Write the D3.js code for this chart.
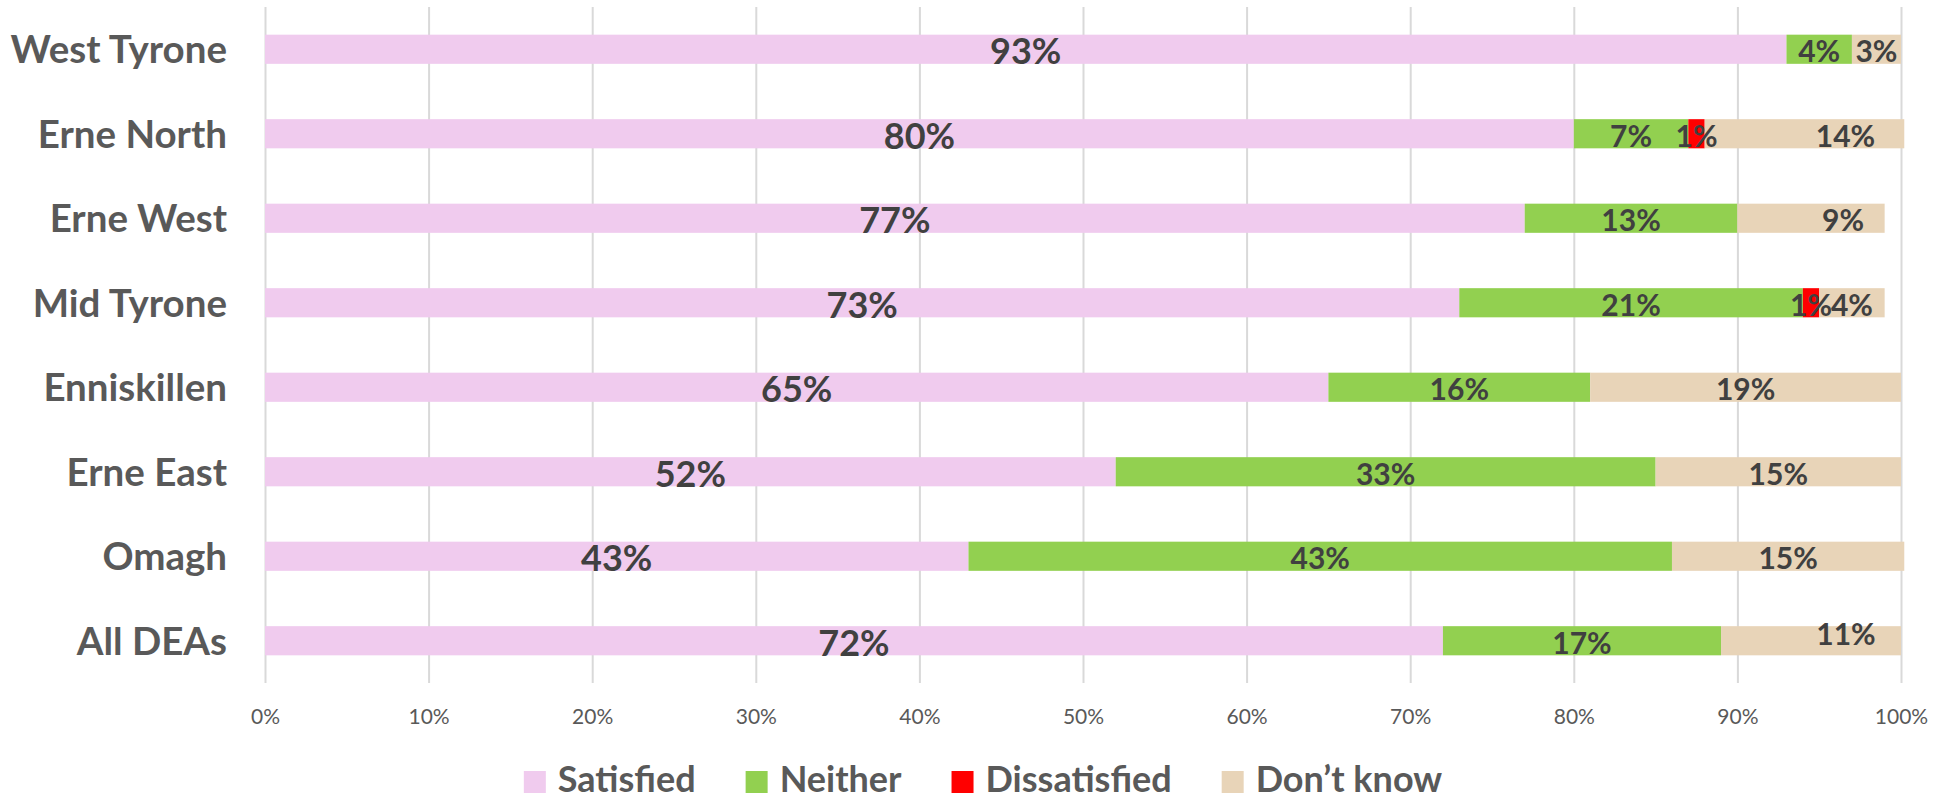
<!DOCTYPE html>
<html>
<head>
<meta charset="utf-8">
<script src="https://cdn.jsdelivr.net/npm/d3@7"></script>
<style>
  body { margin: 0; background: #fff; }
  svg { display: block; font-family: Lato, 'Open Sans', sans-serif; }
</style>
</head>
<body>
<svg class="chart"></svg>
<script>

var areas = ['West Tyrone', 'Erne North', 'Erne West', 'Mid Tyrone', 'Enniskillen', 'Erne East', 'Omagh', 'All DEAs']
var seriesNames = ['Satisfied', 'Neither', 'Dissatisfied', 'Don\u2019t know']
var colours = ['#F0CBEE', '#92D050', '#FF0000', '#E8D4B8']

// bar lengths, %
var satisfied    = [93, 80, 77, 73, 65, 52, 43, 72]
var neither      = [4, 7, 13, 21, 16, 33, 43, 17]
var dissatisfied = [0, 1, 0, 1, 0, 0, 0, 0]
var dontKnow     = [3, 12.2, 9, 4, 19, 15, 14.2, 11]

// printed labels, these don't always agree with the bars
var satisfiedLabels    = ['93%', '80%', '77%', '73%', '65%', '52%', '43%', '72%']
var neitherLabels      = ['4%', '7%', '13%', '21%', '16%', '33%', '43%', '17%']
var dissatisfiedLabels = [null, '1%', null, '1%', null, null, null, null]
var dontKnowLabels     = ['3%', '14%', '9%', '4%', '19%', '15%', '15%', '11%']

var tickValues = [0, 10, 20, 30, 40, 50, 60, 70, 80, 90, 100]

var W = 1948, H = 801
var margin = {left: 265, right: 47, top: 7, bottom: 118}

var svg = d3.select('.chart')
    .attr('width', W)
    .attr('height', H)

var x = d3.scaleLinear()
    .domain([0, 100])
    .range([margin.left, W - margin.right])

var y = d3.scaleBand()
    .domain(areas)
    .range([margin.top, H - margin.bottom])
    .paddingInner(0.655)
    .paddingOuter(0.3275)

var seriesValues = [satisfied, neither, dissatisfied, dontKnow]
var seriesLabels = [satisfiedLabels, neitherLabels, dissatisfiedLabels, dontKnowLabels]

var rows = areas.map(function(a, i) {
  var row = {area: a, index: i}
  seriesNames.forEach(function(s, j) { row[s] = seriesValues[j][i] })
  return row
})

var stacked = d3.stack().keys(seriesNames)(rows)

// gridlines + tick labels
var axis = svg.append('g')
    .attr('transform', 'translate(0,' + (H - margin.bottom) + ')')
    .call(d3.axisBottom(x)
      .tickValues(tickValues)
      .tickSize(-(H - margin.bottom - margin.top))
      .tickPadding(26)
      .tickFormat(function(d) { return d + '%' }))

axis.select('.domain').remove()
axis.selectAll('line')
    .attr('stroke', '#D9D9D9')
    .attr('stroke-width', 2)
axis.selectAll('text')
    .attr('fill', '#595959')
    .style('font-size', '21px')
    .style('font-family', 'Lato, sans-serif')

// bars
svg.append('g').selectAll('g')
    .data(stacked)
  .enter().append('g')
    .attr('fill', function(d, i) { return colours[i] })
  .selectAll('rect')
    .data(function(d) { return d })
  .enter().append('rect')
    .attr('x', function(d) { return x(d[0]) })
    .attr('y', function(d) { return y(d.data.area) })
    .attr('width', function(d) { return x(d[1]) - x(d[0]) })
    .attr('height', y.bandwidth())

// category labels
svg.append('g').selectAll('text')
    .data(areas)
  .enter().append('text')
    .attr('x', margin.left - 38)
    .attr('y', function(d) { return y(d) + y.bandwidth() / 2 })
    .attr('dy', '0.36em')
    .attr('text-anchor', 'end')
    .attr('fill', '#595959')
    .style('font-size', '38.5px')
    .style('font-weight', 'bold')
    .text(function(d) { return d })

// data labels, a few were dragged by hand in the original
var nudge = {
  'Erne North|Don\u2019t know': [41, 0],
  'Erne West|Don\u2019t know': [32, 0],
  'All DEAs|Don\u2019t know': [35, -9]
}

var labelData = []
stacked.forEach(function(layer, j) {
  layer.forEach(function(d) {
    var txt = seriesLabels[j][d.data.index]
    if (!txt) return
    var n = nudge[d.data.area + '|' + layer.key] || [0, 0]
    labelData.push({
      text: txt,
      cx: (x(d[0]) + x(d[1])) / 2 + n[0],
      cy: y(d.data.area) + y.bandwidth() / 2 + n[1],
      size: j === 0 ? 36 : 30
    })
  })
})

svg.append('g').selectAll('text')
    .data(labelData)
  .enter().append('text')
    .attr('x', function(d) { return d.cx })
    .attr('y', function(d) { return d.cy + 0.36 * d.size + 2 })
    .attr('text-anchor', 'middle')
    .attr('fill', '#404040')
    .style('font-size', function(d) { return d.size + 'px' })
    .style('font-weight', 'bold')
    .text(function(d) { return d.text })

// legend
var legend = svg.append('g')

var items = legend.selectAll('g')
    .data(seriesNames)
  .enter().append('g')

items.append('rect')
    .attr('y', 771)
    .attr('width', 22)
    .attr('height', 22)
    .attr('fill', function(d, i) { return colours[i] })

items.append('text')
    .attr('x', 34)
    .attr('y', 792)
    .attr('fill', '#595959')
    .style('font-size', '36px')
    .style('font-weight', 'bold')
    .text(function(d) { return d })

var pos = 0
items.each(function() {
  d3.select(this).attr('transform', 'translate(' + pos + ',0)')
  pos += 34 + this.querySelector('text').getComputedTextLength() + 50
})
pos -= 50
legend.attr('transform', 'translate(' + (983 - pos / 2) + ',0)')

</script>
</body>
</html>
